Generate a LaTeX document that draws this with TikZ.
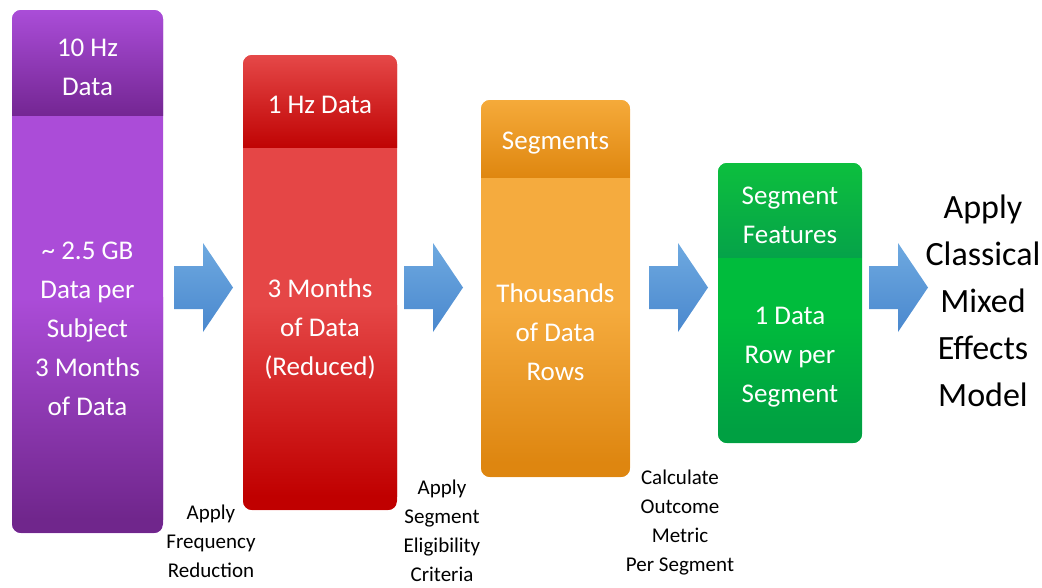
\documentclass[tikz,border=0pt]{standalone}
\usepackage{fontspec}
\setmainfont{Carlito}
\usetikzlibrary{calc}
\definecolor{tenA}{HTML}{AB4CD8}
\definecolor{tenB}{HTML}{70268C}
\definecolor{tenC}{HTML}{AA4DD8}
\definecolor{tenD}{HTML}{742693}
\definecolor{oneA}{HTML}{E54646}
\definecolor{oneB}{HTML}{C00000}
\definecolor{oneC}{HTML}{E54848}
\definecolor{oneD}{HTML}{C00404}
\definecolor{segA}{HTML}{F5AB3E}
\definecolor{segB}{HTML}{DE8610}
\definecolor{segC}{HTML}{F5AA3A}
\definecolor{segD}{HTML}{DF8710}
\definecolor{featA}{HTML}{00BC3C}
\definecolor{featB}{HTML}{00A042}
\definecolor{featC}{HTML}{0DBF3E}
\definecolor{featD}{HTML}{05A349}
\definecolor{flowA}{HTML}{6EA9E0}
\definecolor{flowB}{HTML}{4A88CE}

\begin{document}
\begin{tikzpicture}[x=1pt,y=1pt,
  stage/.style={rounded corners=9pt,inner sep=0pt,outer sep=0pt,draw=none},
  inside/.style={text=white,align=center,font=\fontsize{27}{39}\selectfont},
  note/.style={align=center,font=\fontsize{21}{29}\selectfont},
  flow/.style={top color=flowA,bottom color=flowB,draw=none}
]
\useasboundingbox (0,0) rectangle (1042,-587);

% the four stage columns
\node[stage,fill=tenA,minimum width=151pt,minimum height=523pt] (tenhz) at (87.5,-271.5) {};
\node[stage,fill=oneA,minimum width=154pt,minimum height=455pt] (onehz) at (320,-282.5) {};
\node[stage,fill=segA,minimum width=149pt,minimum height=377pt] (segs) at (555.5,-288.5) {};
\node[stage,fill=featA,minimum width=144pt,minimum height=280pt] (feats) at (790,-303) {};

% darker lower half and a shaded head band on each column
\foreach \s/\col/\h in {tenhz/ten/105,onehz/one/92,segs/seg/77,feats/feat/94} {
  \begin{scope}
    \clip[rounded corners=9pt] (\s.north west) rectangle (\s.south east);
    \shade[top color=\col A,bottom color=\col B]
      ($(\s.south west)!0.45!(\s.north west)$) rectangle ([yshift=14pt]\s.south east);
    \fill[\col B] ([yshift=14pt]\s.south west) rectangle (\s.south east);
    \shade[top color=\col C,middle color=\col C!70!\col D,bottom color=\col D]
      (\s.north west) rectangle ([yshift=-\h pt]\s.north east);
  \end{scope}
}

\node[inside] (tenhzhead) at (87.5,-67) {10 Hz\\Data};
\node[inside] (tenhzbody) at (87.5,-329) {\textasciitilde{} 2.5 GB\\Data per\\Subject\\3 Months\\of Data};
\node[inside] (onehzhead) at (320,-105) {1 Hz Data};
\node[inside] (onehzbody) at (320,-328.5) {3 Months\\of Data\\(Reduced)};
\node[inside] (segshead) at (555.5,-143) {Segments};
\node[inside] (segsbody) at (555.5,-332) {Thousands\\of Data\\Rows};
\node[inside] (featshead) at (790,-215) {Segment\\Features};
\node[inside] (featsbody) at (790,-357) {1 Data\\Row per\\Segment};

\node[align=center,font=\fontsize{34}{47}\selectfont] (model) at (983,-301)
  {Apply\\Classical\\Mixed\\Effects\\Model};

% block arrows between the columns
\coordinate (shaft) at (0,-266);
\foreach \from/\gap in {tenhz/11,onehz/7,segs/19,feats/7}
  \shade[flow] ($(\from.east |- shaft)+(\gap,0)$) -- ++(29,0) -- ++(0,23) -- ++(30,-44.5)
    -- ++(-30,-44.5) -- ++(0,23) -- ++(-29,0) -- cycle;

% step labels
\node[note] (freqlbl) at (211,-541) {Apply\\Frequency\\Reduction};
\node[note] (eliglbl) at (442,-531) {Apply\\Segment\\Eligibility\\Criteria};
\node[note] (metriclbl) at (680,-523) {Calculate\\Outcome\\Metric\\Per Segment};
\end{tikzpicture}
\end{document}
